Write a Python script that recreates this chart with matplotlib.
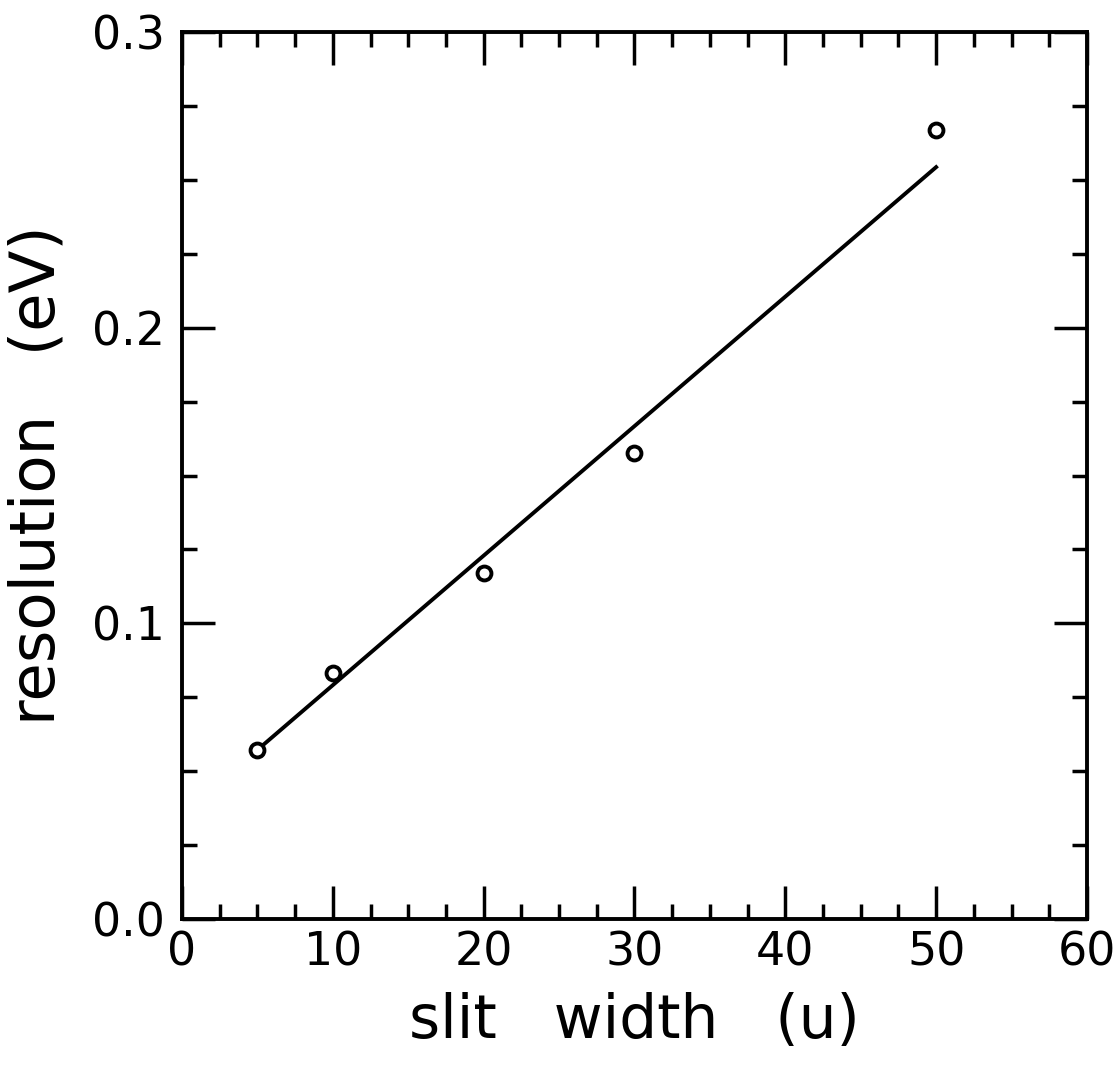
import numpy as np
import matplotlib.pyplot as plt
from matplotlib.ticker import MultipleLocator

# measured points
slit = [5, 10, 20, 30, 50]
resolution = [0.0572, 0.0832, 0.117, 0.1576, 0.2668]

# straight-line fit drawn through the data
fit_x = [5, 50]
fit_y = [0.0572, 0.2543]

plt.rcParams['font.family'] = ['DejaVu Sans']

fig = plt.figure(figsize=(11.2, 10.67), dpi=100)
ax = fig.add_axes([0.1625, 0.1387, 0.808, 0.8313])

ax.plot(fit_x, fit_y, color='black', lw=2.8)
ax.plot(slit, resolution, 'o', mfc='white', mec='black', mew=2.8, ms=10)

ax.set_xlim(0, 60)
ax.set_ylim(0, 0.3)
ax.xaxis.set_major_locator(MultipleLocator(10))
ax.xaxis.set_minor_locator(MultipleLocator(2.5))
ax.yaxis.set_major_locator(MultipleLocator(0.1))
ax.yaxis.set_minor_locator(MultipleLocator(0.025))
ax.yaxis.set_major_formatter(plt.FuncFormatter(lambda v, p: f'{v:.1f}'))

ax.tick_params(which='both', direction='in', top=True, right=True, width=2.5, labelsize=33)
ax.tick_params(axis='x', pad=8)
ax.tick_params(axis='y', pad=12)
ax.tick_params(which='major', length=24)
ax.tick_params(which='minor', length=11)
for s in ax.spines.values():
    s.set_linewidth(2.8)

ax.set_xlabel('slit   width   (u)', fontsize=43, labelpad=12)
ax.set_ylabel('resolution   (eV)', fontsize=45, labelpad=18)

fig.savefig('out.png', dpi=100)
